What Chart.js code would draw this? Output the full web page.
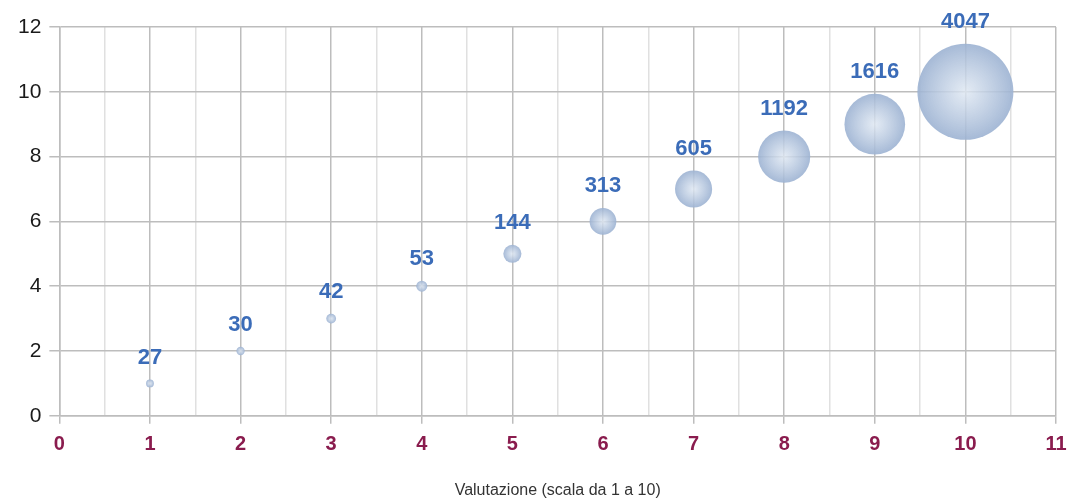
<!DOCTYPE html>
<html>
<head>
<meta charset="utf-8">
<script src="https://cdn.jsdelivr.net/npm/chart.js@4"></script>
<style>
  body { margin: 0; background: #fff; }
</style>
</head>
<body>
<canvas id="myChart" width="1071" height="503"></canvas>
<script>
// ratings on x, same value on y, bubble size = count
const ratings = [1, 2, 3, 4, 5, 6, 7, 8, 9, 10];
const yValues = [1, 2, 3, 4, 5, 6, 7, 8, 9, 10];
const counts = [27, 30, 42, 53, 144, 313, 605, 1192, 1616, 4047];
const xTicks = [0, 1, 2, 3, 4, 5, 6, 7, 8, 9, 10, 11];
const yTicks = [0, 2, 4, 6, 8, 10, 12];

const maxCount = Math.max(...counts);
const maxRadius = 48;

const points = ratings.map((x, i) => ({
  x: x,
  y: yValues[i],
  r: maxRadius * Math.sqrt(counts[i] / maxCount)
}));

function bubbleFill(ctx) {
  const chart = ctx.chart;
  if (!chart.chartArea || ctx.raw === undefined || !chart.scales.x) {
    return 'rgba(180,198,222,0.85)';
  }
  const px = chart.scales.x.getPixelForValue(ctx.raw.x);
  const py = chart.scales.y.getPixelForValue(ctx.raw.y);
  const g = chart.ctx.createRadialGradient(px, py, 0, px, py, ctx.raw.r);
  g.addColorStop(0, 'rgba(222,231,242,0.82)');
  g.addColorStop(1, 'rgba(156,178,210,0.9)');
  return g;
}

// value labels above each bubble
const valueLabels = {
  id: 'valueLabels',
  afterDatasetsDraw(chart) {
    const c = chart.ctx;
    const meta = chart.getDatasetMeta(0);
    c.save();
    c.font = 'bold 22px "Liberation Sans", Arial, sans-serif';
    c.fillStyle = '#3b6cb8';
    c.textAlign = 'center';
    c.textBaseline = 'middle';
    meta.data.forEach((el, i) => {
      c.fillText(String(counts[i]), el.x, el.y - points[i].r - 22);
    });
    c.restore();
  }
};

const ctx = document.getElementById('myChart').getContext('2d');

const myChart = new Chart(ctx, {
  type: 'bubble',
  data: {
    datasets: [{
      data: points,
      backgroundColor: bubbleFill,
      borderWidth: 0,
      clip: false
    }]
  },
  options: {
    responsive: false,
    animation: false,
    events: [],
    layout: {
      autoPadding: false,
      padding: { top: 27, right: 0, left: 10, bottom: 3 }
    },
    scales: {
      x: {
        type: 'linear',
        min: 0,
        max: 11,
        afterBuildTicks: (axis) => {
          const t = [];
          for (let v = 0; v <= 22; v++) t.push({ value: v / 2 });
          axis.ticks = t;
        },
        afterFit: (axis) => {
          axis.paddingRight = 15;
        },
        ticks: {
          autoSkip: false,
          maxRotation: 0,
          padding: 9,
          color: '#8a1c4e',
          font: { family: '"Liberation Sans", Arial, sans-serif', size: 20, weight: 'bold' },
          callback: (value) => (xTicks.includes(value) ? value : '')
        },
        grid: {
          color: (c) => (Number.isInteger(c.tick.value) ? '#bdbdbd' : '#e0e0e0'),
          tickColor: (c) => (Number.isInteger(c.tick.value) ? '#bdbdbd' : 'rgba(0,0,0,0)'),
          tickLength: 8,
          lineWidth: 1.5
        },
        border: { color: '#bdbdbd', width: 1.5 },
        title: {
          display: true,
          text: 'Valutazione (scala da 1 a 10)',
          color: '#333',
          font: { family: '"Liberation Sans", Arial, sans-serif', size: 16 },
          padding: { top: 15, bottom: 0 }
        }
      },
      y: {
        min: 0,
        max: 12,
        afterBuildTicks: (axis) => {
          axis.ticks = yTicks.map(v => ({ value: v }));
        },
        ticks: {
          padding: 8,
          color: '#1a1a1a',
          font: { family: '"Liberation Sans", Arial, sans-serif', size: 21 }
        },
        grid: {
          color: '#bdbdbd',
          tickLength: 10,
          lineWidth: 1.5
        },
        border: { color: '#bdbdbd', width: 1.5 }
      }
    },
    plugins: {
      legend: { display: false },
      tooltip: { enabled: false }
    }
  },
  plugins: [valueLabels]
});
</script>
</body>
</html>
